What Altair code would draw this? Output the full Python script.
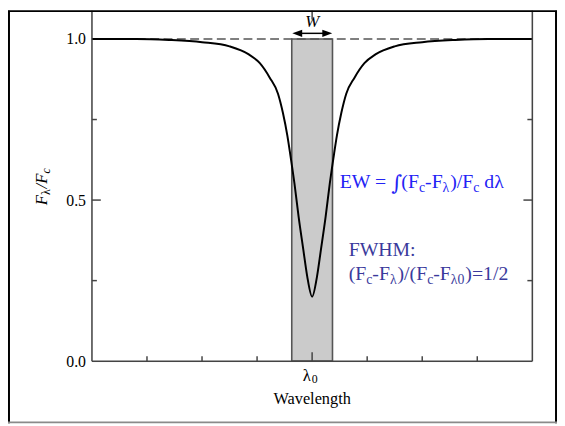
import altair as alt
import pandas as pd

# ---------------- data ----------------
wl = [-4.0, -3.2, -2.6, -2.0, -1.5, -1.15, -0.95, -0.77, -0.62, -0.53, -0.45, -0.40,
      -0.32, -0.245, -0.16, -0.09, 0.0, 0.09, 0.16, 0.245, 0.32, 0.40, 0.45, 0.53,
      0.62, 0.77, 0.95, 1.15, 1.5, 2.0, 2.6, 3.2, 4.0]
flux = [1.0, 1.0, 0.997, 0.99, 0.977, 0.952, 0.925, 0.88, 0.83, 0.77, 0.70, 0.645,
        0.55, 0.448, 0.346, 0.264, 0.20, 0.264, 0.346, 0.448, 0.55, 0.645, 0.70, 0.77,
        0.83, 0.88, 0.925, 0.952, 0.977, 0.99, 0.997, 1.0, 1.0]
ew_left, ew_right = -0.37, 0.37
continuum = 1.0
y_ticks_major = [0.0, 0.5, 1.0]
y_ticks_minor = [0.25, 0.75]
x_ticks_minor = [-3, -2, -1, 1, 2, 3]
x_tick_major = [0]
arrow_y = 1.0175
arrow_left, arrow_right = -0.27, 0.275
w_label_y = 1.054

X_DOMAIN = [-4, 4]
Y_DOMAIN = [0, 1.088]
W, H = 446, 355
FONT = "Liberation Serif"

xs = alt.Scale(domain=X_DOMAIN, nice=False, zero=False)
ys = alt.Scale(domain=Y_DOMAIN, nice=False, zero=False)

# ---------------- rich text helper (Times metrics) ----------------
WID = {' ': 0.25, '(': 0.333, ')': 0.333, '-': 0.333, '/': 0.278, '=': 0.564, ':': 0.278,
       '0': 0.5, '1': 0.5, '2': 0.5, 'E': 0.611, 'W': 0.944, 'F': 0.556, 'H': 0.722,
       'M': 0.889, 'c': 0.444, 'd': 0.5, 'λ': 0.55, '∫': 0.5}
WID_IT = {'F': 0.611, '/': 0.278, 'c': 0.444}


def rich(segments, x0, y0, size, sub_size, shift, color):
    rows = []
    x = x0
    for text, sub in segments:
        fs = sub_size if sub else size
        lead = len(text) - len(text.lstrip(' '))
        xx = x + lead * WID[' '] * fs
        rows.append(dict(t=text.strip(' '), px=xx, py=y0 + (shift if sub else 0), fs=fs, col=color))
        x += sum(WID.get(ch, 0.5) for ch in text) * fs
    return rows


rows = []
rows += rich([("EW = ", 0), ("∫", 0), ("(F", 0), ("c", 1), ("-F", 0), ("λ", 1), (")/F", 0),
              ("c", 1), (" dλ", 0)], 251, 179.5, 20, 14, 4, "#2323f5")
rows += rich([("FWHM:", 0)], 260, 249, 20, 14, 4, "#3a3a9c")
rows += rich([("(F", 0), ("c", 1), ("-F", 0), ("λ", 1), (")/(F", 0), ("c", 1), ("-F", 0),
              ("λ0", 1), (")=1/2", 0)], 260, 273, 20, 14, 4, "#3a3a9c")
# x-axis labels
rows.append(dict(t="λ", px=213.5, py=375, fs=17, col="black"))
rows.append(dict(t="0", px=222.5, py=377.5, fs=12, col="black"))
ann = pd.DataFrame(rows)
integral = ann[ann.t == "∫"].copy()
ann = ann[ann.t != "∫"]
integral["py"] = integral["py"] + 2
integral["fs"] = 21

title_df = pd.DataFrame([
    dict(t="Wavelength", px=223, py=398.5, fs=16.5, col="black"),
])

# rotated y title pieces (reading upwards)
yt_rows = []
y = 197
for text, sub, it in [("F", 0, 1), ("λ", 1, 0), ("/F", 0, 1), ("c", 1, 1)]:
    fs = 12 if sub else 17
    yt_rows.append(dict(t=text, px=-42 if sub else -46, py=y, fs=fs, it=it))
    tbl = WID_IT if it else WID
    y -= sum(tbl.get(ch, 0.5) for ch in text) * fs
yt = pd.DataFrame(yt_rows)

# ---------------- layers ----------------
band = alt.Chart(pd.DataFrame({"a": [ew_left], "b": [ew_right], "y0": [0.0], "y1": [continuum]})).mark_rect(
    fill="#cbcbcb", stroke="#555555", strokeWidth=1.6
).encode(
    x=alt.X("a:Q", scale=xs, axis=None), x2="b:Q",
    y=alt.Y("y0:Q", scale=ys, axis=alt.Axis(values=y_ticks_major, format=".1f", title=None,
                                             domain=False, ticks=False, tickSize=0, grid=False,
                                             labelFont=FONT, labelFontSize=16, labelColor="black",
                                             labelPadding=6.5)),
    y2="y1:Q")

dashed = alt.Chart(pd.DataFrame({"c": [continuum]})).mark_rule(
    color="#555555", strokeWidth=1.5, strokeDash=[9, 4.5]
).encode(y=alt.Y("c:Q", scale=ys))

curve = alt.Chart(pd.DataFrame({"wl": wl, "f": flux})).mark_line(
    color="black", strokeWidth=2, interpolate="monotone"
).encode(x=alt.X("wl:Q", scale=xs), y=alt.Y("f:Q", scale=ys))

arrow_line = alt.Chart(pd.DataFrame({"a": [arrow_left], "b": [arrow_right], "y": [arrow_y]})).mark_rule(
    color="black", strokeWidth=1.5
).encode(x=alt.X("a:Q", scale=xs), x2="b:Q", y=alt.Y("y:Q", scale=ys))

head_l = alt.Chart(pd.DataFrame({"x": [arrow_left], "y": [arrow_y]})).mark_point(
    shape="M-1,0L1,-0.75L1,0.75Z", filled=True, color="black", size=100, opacity=1
).encode(x=alt.X("x:Q", scale=xs), y=alt.Y("y:Q", scale=ys))
head_r = alt.Chart(pd.DataFrame({"x": [arrow_right], "y": [arrow_y]})).mark_point(
    shape="M1,0L-1,-0.75L-1,0.75Z", filled=True, color="black", size=100, opacity=1
).encode(x=alt.X("x:Q", scale=xs), y=alt.Y("y:Q", scale=ys))

w_text = alt.Chart(pd.DataFrame({"x": [0.0], "y": [w_label_y], "t": ["W"]})).mark_text(
    font=FONT, fontSize=17, fontStyle="italic", baseline="middle", align="center", color="black"
).encode(x=alt.X("x:Q", scale=xs), y=alt.Y("y:Q", scale=ys), text="t:N")


def px_text(df, **kw):
    enc = dict(x=alt.X("px:Q", scale=None, axis=None), y=alt.Y("py:Q", scale=None, axis=None),
               size=alt.Size("fs:Q", scale=None, legend=None), text="t:N")
    if "col" in df.columns and "color" not in kw:
        enc["color"] = alt.Color("col:N", scale=None, legend=None)
    return alt.Chart(df).mark_text(**kw).encode(**enc)


ann_text = px_text(ann, font=FONT, align="left", baseline="alphabetic")
int_text = px_text(integral, font="DejaVu Serif", align="left", baseline="alphabetic")
xtitle = px_text(title_df, font=FONT, align="center", baseline="alphabetic")
ytitle_it = px_text(yt[yt.it == 1], font=FONT, fontStyle="italic", angle=270, align="left",
                    baseline="alphabetic", color="black")
ytitle_rm = px_text(yt[yt.it == 0], font=FONT, angle=270, align="left",
                    baseline="alphabetic", color="black")

TC = "#444444"
bt_minor = alt.Chart(pd.DataFrame({"x": x_ticks_minor})).mark_rule(color=TC, strokeWidth=1.5).encode(
    x=alt.X("x:Q", scale=xs), y=alt.value(H), y2=alt.value(H - 5))
bt_major = alt.Chart(pd.DataFrame({"x": x_tick_major})).mark_rule(color=TC, strokeWidth=1.5).encode(
    x=alt.X("x:Q", scale=xs), y=alt.value(H), y2=alt.value(H - 9))
tt_major = alt.Chart(pd.DataFrame({"x": x_tick_major})).mark_rule(color=TC, strokeWidth=1.5).encode(
    x=alt.X("x:Q", scale=xs), y=alt.value(0), y2=alt.value(9))
lt_minor = alt.Chart(pd.DataFrame({"y": y_ticks_minor})).mark_rule(color=TC, strokeWidth=1.5).encode(
    y=alt.Y("y:Q", scale=ys), x=alt.value(0), x2=alt.value(5))
lt_major = alt.Chart(pd.DataFrame({"y": [0.5]})).mark_rule(color=TC, strokeWidth=1.5).encode(
    y=alt.Y("y:Q", scale=ys), x=alt.value(0), x2=alt.value(9))
rt_minor = alt.Chart(pd.DataFrame({"y": y_ticks_minor})).mark_rule(color=TC, strokeWidth=1.5).encode(
    y=alt.Y("y:Q", scale=ys), x=alt.value(W), x2=alt.value(W - 5))
rt_major = alt.Chart(pd.DataFrame({"y": [0.5]})).mark_rule(color=TC, strokeWidth=1.5).encode(
    y=alt.Y("y:Q", scale=ys), x=alt.value(W), x2=alt.value(W - 9))

# plot frame
one = pd.DataFrame({"k": [0]})
pf = [
    alt.Chart(one).mark_rule(color=TC, strokeWidth=1.5).encode(x=alt.value(0), y=alt.value(0), y2=alt.value(H)),
    alt.Chart(one).mark_rule(color=TC, strokeWidth=1.5).encode(x=alt.value(W), y=alt.value(0), y2=alt.value(H)),
    alt.Chart(one).mark_rule(color=TC, strokeWidth=1.5).encode(x=alt.value(0), x2=alt.value(W), y=alt.value(H)),
]

# outer picture frame
fr = [
    alt.Chart(one).mark_rule(color="black", strokeWidth=2).encode(x=alt.value(-84), y=alt.value(0), y2=alt.value(418)),
    alt.Chart(one).mark_rule(color="black", strokeWidth=2).encode(x=alt.value(-85), x2=alt.value(471), y=alt.value(0.5)),
    alt.Chart(one).mark_rule(color="black", strokeWidth=2).encode(x=alt.value(470), y=alt.value(0), y2=alt.value(418)),
    alt.Chart(one).mark_rule(color="#8a8a8a", strokeWidth=2).encode(x=alt.value(-85), x2=alt.value(471), y=alt.value(417)),
]

chart = alt.layer(
    band, dashed, curve, arrow_line, head_l, head_r, w_text,
    bt_minor, bt_major, tt_major, lt_minor, lt_major, rt_minor, rt_major,
    ann_text, int_text, xtitle, ytitle_it, ytitle_rm,
    *pf, *fr,
).properties(
    width=W, height=H,
    autosize=alt.AutoSizeParams(type="none"),
    padding={"left": 85, "top": 0, "right": 25, "bottom": 63},
).configure_view(
    strokeWidth=0
).configure(background="white")

chart.save("out.html", embed_options={"renderer": "svg", "actions": False})
